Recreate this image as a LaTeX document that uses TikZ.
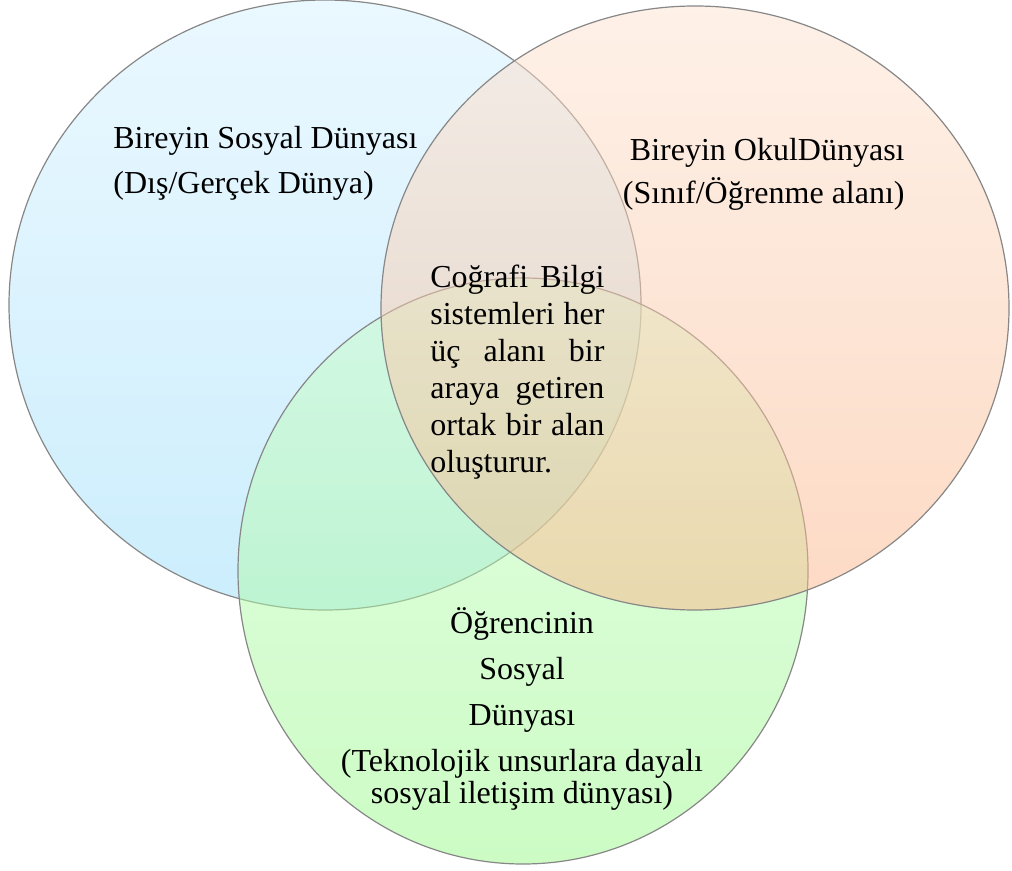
\documentclass[tikz,border=0pt]{standalone}
\usepackage{fontspec}
\setmainfont{Liberation Serif}
\definecolor{skytop}{RGB}{214,241,255}
\definecolor{skybot}{RGB}{153,221,251}
\definecolor{leaftop}{RGB}{205,253,205}
\definecolor{leafbot}{RGB}{153,249,137}
\definecolor{peachtop}{RGB}{253,227,209}
\definecolor{peachbot}{RGB}{251,181,137}
\definecolor{rimgray}{RGB}{135,135,135}
\begin{document}
\begin{tikzpicture}[x=0.5pt,y=-0.5pt,
  venn/.style={draw=rimgray, line width=0.6pt, fill opacity=0.5},
  label/.style={inner sep=0pt, text=black, font=\fontsize{16}{22.5}\selectfont}]
\useasboundingbox (0,0) rectangle (1012,871);
% Draw social world (blue)
\shadedraw[venn, top color=skytop, bottom color=skybot] (325,305) ellipse (316 and 305);
% Draw student world (green)
\shadedraw[venn, top color=leaftop, bottom color=leafbot] (523,571) ellipse (285 and 293);
% Draw school world (orange)
\shadedraw[venn, top color=peachtop, bottom color=peachbot] (695,308) ellipse (314 and 302);
% Labels
\node[label, anchor=north west, align=left] (social) at (113,126)
  {Bireyin Sosyal Dünyası\\(Dış/Gerçek Dünya)};
\node[label, anchor=north east, align=right, font=\fontsize{16}{21.5}\selectfont] (school) at (905,138)
  {Bireyin OkulDünyası\\(Sınıf/Öğrenme alanı)};
\node[label, anchor=north west, text width=87pt, align=justify, font=\fontsize{16}{18.5}\selectfont] (gis) at (430,265)
  {Coğrafi Bilgi\linebreak sistemleri her\linebreak üç alanı bir\linebreak araya getiren\linebreak ortak bir alan\linebreak oluşturur.};
\node[label, anchor=north, align=center, font=\fontsize{16}{23}\selectfont] (student) at (522,607)
  {Öğrencinin\\Sosyal\\Dünyası\\(Teknolojik unsurlara dayalı\\[-7pt]sosyal iletişim dünyası)};
\end{tikzpicture}
\end{document}
